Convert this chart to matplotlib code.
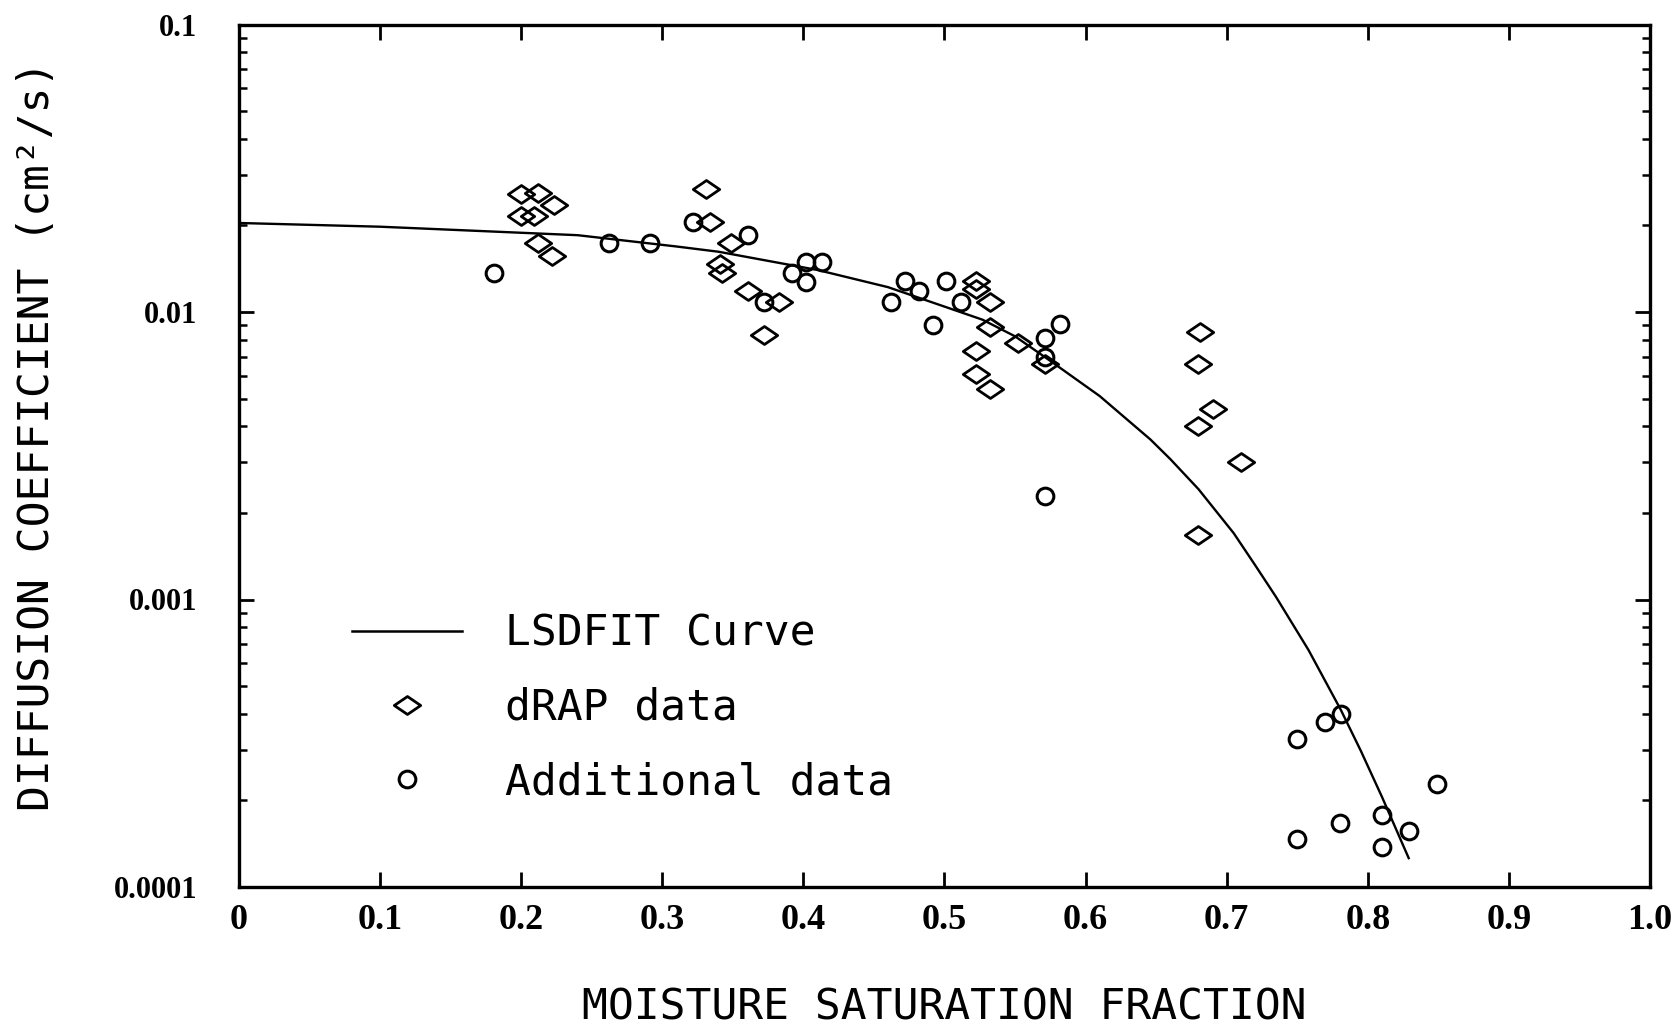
import matplotlib
matplotlib.use("Agg")
import matplotlib.pyplot as plt
from matplotlib.path import Path
from matplotlib.ticker import FixedLocator, LogLocator, NullFormatter
from matplotlib.lines import Line2D

# ---- data ----
curve_x = [0.0, 0.10, 0.24, 0.31, 0.34, 0.41, 0.46, 0.527, 0.55, 0.575, 0.61, 0.646,
           0.66, 0.68, 0.705, 0.72, 0.735, 0.758, 0.781, 0.795, 0.81, 0.829]
curve_y = [0.0204, 0.0198, 0.0185, 0.0169, 0.0162, 0.0140, 0.0122, 0.0094, 0.00823,
           0.00676, 0.0051, 0.0036, 0.00308, 0.00242, 0.00170, 0.00132, 0.00102,
           0.000667, 0.000412, 0.000298, 0.000206, 0.000126]

drap_x = [0.200, 0.212, 0.223, 0.200, 0.209, 0.212, 0.222,
          0.331, 0.334, 0.349, 0.341, 0.342, 0.361, 0.383, 0.372,
          0.522, 0.522, 0.532, 0.532, 0.522, 0.522, 0.532, 0.552, 0.571,
          0.681, 0.680, 0.690, 0.680, 0.710, 0.680]
drap_y = [0.0257, 0.0260, 0.0235, 0.0216, 0.0216, 0.0174, 0.0157,
          0.0267, 0.0205, 0.0174, 0.0147, 0.0137, 0.0118, 0.0108, 0.0083,
          0.0128, 0.0120, 0.0108, 0.0089, 0.0073, 0.0061, 0.0054, 0.0078, 0.0066,
          0.0085, 0.0066, 0.0046, 0.0040, 0.0030, 0.00168]

add_x = [0.181, 0.262, 0.291, 0.322, 0.361, 0.372, 0.392, 0.402, 0.413, 0.402,
         0.462, 0.472, 0.482, 0.492, 0.501, 0.512, 0.582, 0.571, 0.571, 0.571,
         0.750, 0.770, 0.781, 0.849, 0.750, 0.780, 0.810, 0.810, 0.829]
add_y = [0.0137, 0.0174, 0.0174, 0.0205, 0.0186, 0.0108, 0.0137, 0.0149, 0.0149, 0.0127,
         0.0108, 0.0128, 0.0118, 0.0090, 0.0128, 0.0108, 0.0091, 0.0081, 0.0070, 0.00229,
         0.000326, 0.000375, 0.000399, 0.000229, 0.000147, 0.000167, 0.000178, 0.000138, 0.000157]

x_ticks = [0.0, 0.1, 0.2, 0.3, 0.4, 0.5, 0.6, 0.7, 0.8, 0.9, 1.0]
x_tick_labels = ["0", "0.1", "0.2", "0.3", "0.4", "0.5", "0.6", "0.7", "0.8", "0.9", "1.0"]
y_ticks = [1e-4, 1e-3, 1e-2, 1e-1]
y_tick_labels = ["0.0001", "0.001", "0.01", "0.1"]

labels = ["LSDFIT Curve", "dRAP data", "Additional data"]
xlabel = "MOISTURE SATURATION FRACTION"
ylabel = "DIFFUSION COEFFICIENT (cm\u00b2/s)"

# ---- figure ----
W, H = 1673, 1025
fig = plt.figure(figsize=(W / 100, H / 100), dpi=100)
ax = fig.add_axes([239 / W, 1 - 887 / H, (1650 - 239) / W, (887 - 24.5) / H])

diamond = Path([(-1, 0), (0, 0.68), (1, 0), (0, -0.68), (-1, 0)],
               [Path.MOVETO, Path.LINETO, Path.LINETO, Path.LINETO, Path.CLOSEPOLY])

ax.plot(curve_x, curve_y, color="black", lw=1.7, solid_joinstyle="round")
ax.plot(drap_x, drap_y, linestyle="none", marker=diamond, ms=19, mfc="none",
        mec="black", mew=2.0)
ax.plot(add_x, add_y, linestyle="none", marker="o", ms=12, mfc="none",
        mec="black", mew=2.2)

ax.set_yscale("log")
ax.set_xlim(0, 1.0)
ax.set_ylim(1e-4, 1e-1)

ax.xaxis.set_major_locator(FixedLocator(x_ticks))
ax.set_xticklabels(x_tick_labels)
ax.yaxis.set_major_locator(FixedLocator(y_ticks))
ax.set_yticklabels(y_tick_labels)
ax.yaxis.set_minor_locator(LogLocator(base=10, subs=[2, 3, 4, 5, 6, 7, 8, 9]))
ax.yaxis.set_minor_formatter(NullFormatter())

for s in ax.spines.values():
    s.set_linewidth(2.4)

ax.tick_params(axis="both", which="major", direction="in", top=True, right=True,
               length=11, width=2.0)
ax.tick_params(axis="y", which="minor", direction="in", right=True,
               length=6, width=1.8)
ax.tick_params(axis="x", which="major", pad=12)
ax.tick_params(axis="y", which="major", pad=30)

for lab in ax.get_xticklabels():
    lab.set_fontfamily("Liberation Serif")
    lab.set_fontweight("bold")
    lab.set_fontsize(26)
for lab in ax.get_yticklabels():
    lab.set_fontfamily("Liberation Serif")
    lab.set_fontweight("bold")
    lab.set_fontsize(22)

fig.text(944 / W, 1 - 1007 / H, xlabel, ha="center", va="center",
         fontfamily="DejaVu Sans Mono", fontsize=31)
fig.text(37 / W, 1 - 436 / H, ylabel, ha="center", va="center", rotation=90,
         fontfamily="DejaVu Sans Mono", fontsize=31)

handles = [
    Line2D([], [], color="black", lw=1.8),
    Line2D([], [], linestyle="none", marker=diamond, ms=19, mfc="none", mec="black", mew=2.0),
    Line2D([], [], linestyle="none", marker="o", ms=12, mfc="none", mec="black", mew=2.2),
]
leg = ax.legend(handles, labels, loc="center left",
                bbox_to_anchor=(352 / W, 1 - 708 / H), bbox_transform=fig.transFigure,
                frameon=False, borderpad=0, borderaxespad=0, handlelength=2.55,
                handletextpad=1.0, labelspacing=0.75, numpoints=1,
                prop={"family": "DejaVu Sans Mono", "size": 31})

fig.savefig("out.png", dpi=100, facecolor="white")
